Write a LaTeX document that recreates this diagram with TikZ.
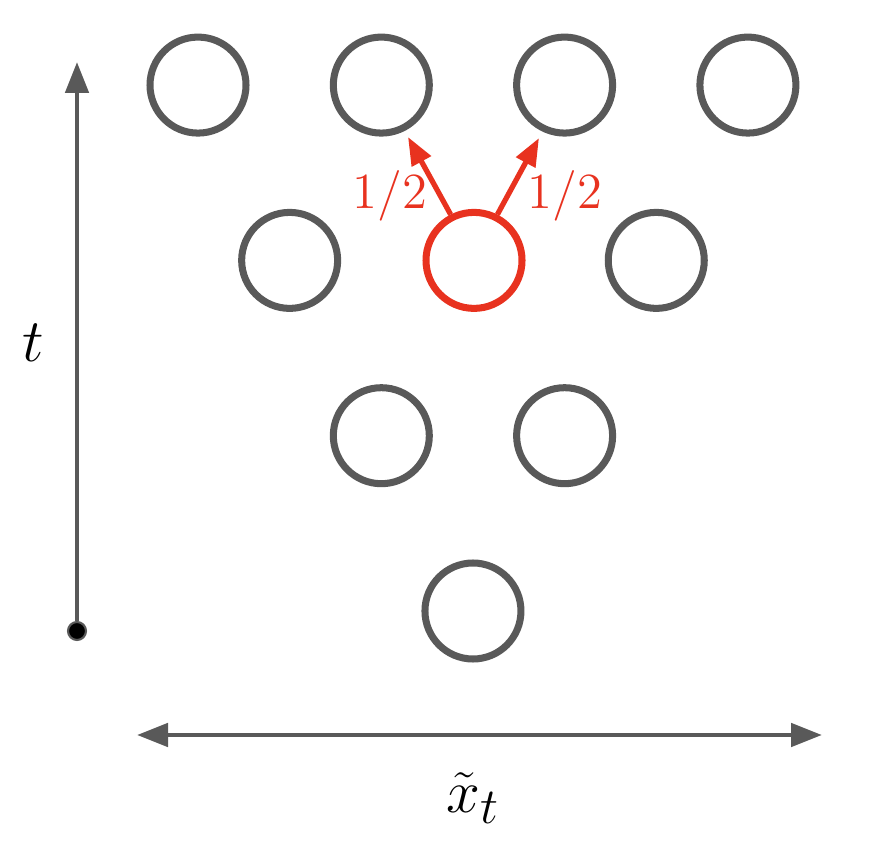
\documentclass[tikz,border=0pt]{standalone}
\usepackage{amsmath}
\usetikzlibrary{arrows.meta}
\definecolor{gridgray}{HTML}{595959}
\definecolor{flowred}{HTML}{E8321F}
\begin{document}
\begin{tikzpicture}[
    gtip/.tip={Triangle[length=0.31cm, width=0.23cm]},
    rtip/.tip={Triangle[length=0.28cm, width=0.21cm]},
    site/.style={circle, draw=gridgray, line width=2pt, minimum size=0.96cm, inner sep=0pt},
    hot/.style={site, draw=flowred},
    axis/.style={gridgray, line width=1.4pt},
    flow/.style={flowred, line width=1.5pt, -rtip},
    weight/.style={text=flowred, font=\fontsize{14}{16}\selectfont},
    big/.style={font=\fontsize{19}{23}\selectfont}]
    \useasboundingbox (0,0) rectangle (8.7,8.52);
    \foreach \k/\r in {3/0, 2/1, 4/1, 1/2, 5/2, 0/3, 2/3, 4/3, 6/3} {
        \pgfmathsetmacro{\x}{1.98+0.9165*\k}
        \pgfmathsetmacro{\y}{2.41+1.753*\r}
        \node[site] (n-\k-\r) at (\x,\y) {};
    }
    \node[hot] (src) at (4.74,5.916) {};
    \coordinate (tipL) at (4.08,7.15);
    \coordinate (tipR) at (5.39,7.14);
    \draw[flow] (src.117) -- (tipL);
    \draw[flow] (src.63) -- (tipR);
    \node[weight] (wL) at (3.90,6.56) {$1/2$};
    \node[weight] (wR) at (5.65,6.56) {$1/2$};

    \node[circle, fill=black, draw=gridgray, line width=0.6pt, minimum size=0.18cm, inner sep=0pt] (orig) at (0.77,2.21) {};
    \coordinate (top) at (0.77,7.90);
    \draw[axis, -gtip] (orig) -- (top);
    \node[big] (tlab) at (0.33,5.09) {$t$};
    \coordinate (xl) at (1.37,1.17);
    \coordinate (xr) at (8.22,1.17);
    \draw[axis, gtip-gtip] (xl) -- (xr);
    \node[big] (xlab) at (4.73,0.54) {$\tilde{x}_t$};
\end{tikzpicture}
\end{document}
